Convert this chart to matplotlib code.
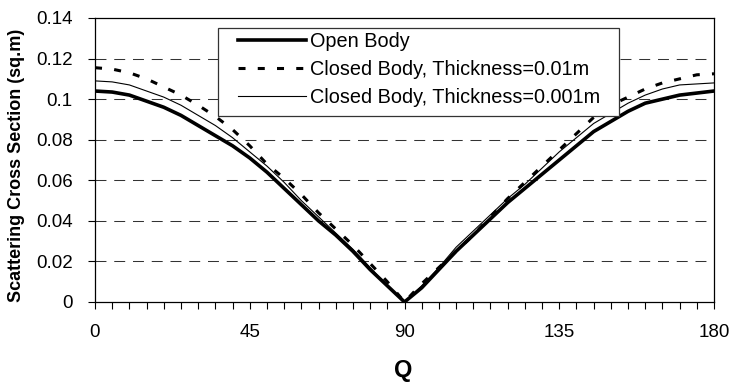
import matplotlib
matplotlib.use("Agg")
import matplotlib.pyplot as plt
from matplotlib.ticker import MultipleLocator
from matplotlib.patches import Rectangle

plt.rcParams['font.family'] = ['Liberation Sans', 'DejaVu Sans']

# angle (deg) and scattering cross section (sq.m)
angle = [0, 5, 10, 15, 20, 25, 30, 35, 40, 45, 50, 55, 60, 65, 70, 75, 80, 85, 90,
         95, 100, 105, 110, 115, 120, 125, 130, 135, 140, 145, 150, 155, 160, 165, 170, 175, 180]
open_body = [0.104, 0.1035, 0.102, 0.099, 0.096, 0.092, 0.087, 0.082, 0.077, 0.071,
             0.064, 0.056, 0.048, 0.040, 0.033, 0.025, 0.016, 0.008, 0.0,
             0.007, 0.016, 0.025, 0.033, 0.041, 0.049, 0.056, 0.063, 0.070, 0.077,
             0.084, 0.089, 0.094, 0.098, 0.100, 0.102, 0.103, 0.104]
closed_001 = [0.1155, 0.1148, 0.113, 0.110, 0.106, 0.102, 0.097, 0.0915, 0.085, 0.077,
              0.068, 0.061, 0.053, 0.044, 0.036, 0.028, 0.019, 0.010, 0.0,
              0.009, 0.017, 0.025, 0.033, 0.042, 0.051, 0.059, 0.067, 0.075, 0.083,
              0.091, 0.097, 0.101, 0.105, 0.108, 0.110, 0.112, 0.1125]
closed_0001 = [0.109, 0.1085, 0.107, 0.104, 0.101, 0.097, 0.092, 0.087, 0.081, 0.074,
               0.067, 0.059, 0.050, 0.042, 0.034, 0.026, 0.017, 0.008, 0.0,
               0.008, 0.017, 0.027, 0.035, 0.043, 0.051, 0.058, 0.066, 0.074, 0.081,
               0.088, 0.093, 0.098, 0.102, 0.105, 0.107, 0.1075, 0.108]
labels = ['Open Body', 'Closed Body, Thickness=0.01m', 'Closed Body, Thickness=0.001m']
yticks = [0, 0.02, 0.04, 0.06, 0.08, 0.1, 0.12, 0.14]
ytick_labels = ['0', '0.02', '0.04', '0.06', '0.08', '0.1', '0.12', '0.14']

fig = plt.figure(figsize=(7.32, 3.83), dpi=100)
ax = fig.add_axes([95/732, 1-302/383, 619/732, 284/383])

ax.plot(angle, open_body, color='black', lw=2.6, label=labels[0])
ax.plot(angle, closed_001, color='black', lw=2.2, linestyle=(0, (2.3, 4.0)), label=labels[1])
ax.plot(angle, closed_0001, color='black', lw=0.8, label=labels[2])

ax.set_xlim(0, 180)
ax.set_ylim(0, 0.14)
ax.xaxis.set_major_locator(MultipleLocator(45))
ax.xaxis.set_minor_locator(MultipleLocator(5))
ax.set_yticks(yticks)
ax.set_yticklabels(ytick_labels)
ax.tick_params(axis='both', which='both', direction='out', length=5, width=0.8,
               labelsize=13.5, color='black')
ax.tick_params(axis='x', pad=11)
ax.tick_params(axis='y', pad=11)

for y in yticks[1:-1]:
    ax.axhline(y, color='#333333', lw=0.75, linestyle=(0, (10.5, 7.5)), zorder=0)

for s in ax.spines.values():
    s.set_linewidth(0.9)
    s.set_color('black')

# legend box drawn separately so the entries can sit with Excel-like padding
frame = Rectangle(((218-95)/619, (302-116)/284), (619-218)/619, (116-28)/284,
                  transform=ax.transAxes, facecolor='white', edgecolor='#333333',
                  lw=0.9, zorder=4)
ax.add_patch(frame)
leg = ax.legend(loc='upper left', bbox_to_anchor=((238-95)/619, (302-32)/284),
                fontsize=14.3, frameon=False, borderpad=0, labelspacing=0.45,
                handlelength=3.4, handletextpad=0.25, borderaxespad=0)
leg.set_zorder(5)

fig.text(17/732, 1-165/383, 'Scattering Cross Section (sq.m)', rotation=90,
         ha='center', va='center', fontsize=13, fontweight='bold')
fig.text(403/732, 1-370/383, 'Q', ha='center', va='center', fontsize=17, fontweight='bold')

fig.savefig('out.png', dpi=100)
